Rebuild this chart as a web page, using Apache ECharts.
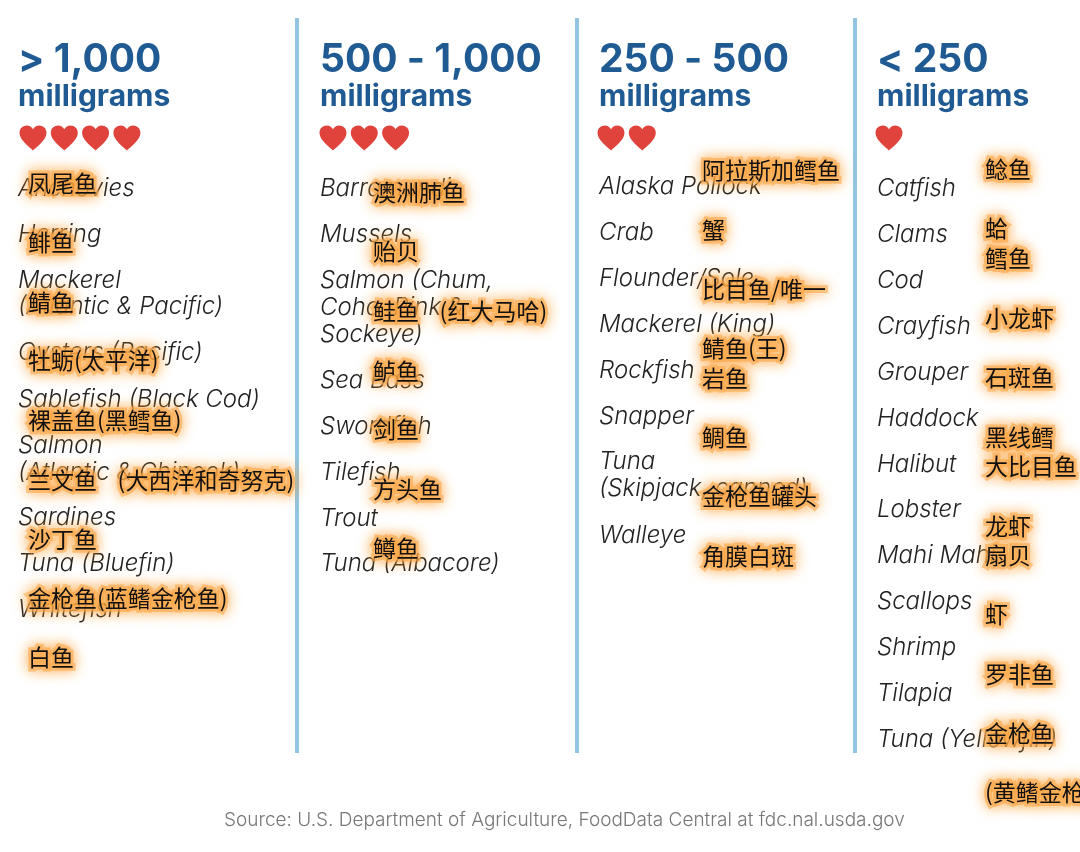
<!DOCTYPE html>
<html>
<head>
<meta charset="utf-8">
<title>Omega-3 por porción</title>
<script src="https://cdn.jsdelivr.net/npm/echarts@6/dist/echarts.min.js"></script>
<style>
  html, body { margin: 0; padding: 0; background: #fff; }
  #main { width: 1080px; height: 852px; }
</style>
</head>
<body>
<div id="main"></div>
<script>
// Encabezados
const ranges = ["> 1,000", "500 - 1,000", "250 - 500", "< 250"];
const unit = "milligrams";
const heartCounts = [4, 3, 2, 1];
const source = "Source: U.S. Department of Agriculture, FoodData Central at fdc.nal.usda.gov";

// Nombres en inglés por columna
const fishEn1 = ["Anchovies", "Herring", "Mackerel", "(Atlantic & Pacific)", "Oysters (Pacific)", "Sablefish (Black Cod)", "Salmon", "(Atlantic & Chinook)", "Sardines", "Tuna (Bluefin)", "Whitefish"];
const fishEn2 = ["Barramundi", "Mussels", "Salmon (Chum,", "Coho, Pink &", "Sockeye)", "Sea Bass", "Swordfish", "Tilefish", "Trout", "Tuna (Albacore)"];
const fishEn3 = ["Alaska Pollock", "Crab", "Flounder/Sole", "Mackerel (King)", "Rockfish", "Snapper", "Tuna", "(Skipjack, canned)", "Walleye"];
const fishEn4 = ["Catfish", "Clams", "Cod", "Crayfish", "Grouper", "Haddock", "Halibut", "Lobster", "Mahi Mahi", "Scallops", "Shrimp", "Tilapia", "Tuna (Yellowfin)"];

// Traducciones superpuestas
const fishZh1 = ["凤尾鱼", "鲱鱼", "鲭鱼", "牡蛎(太平洋)", "裸盖鱼(黑鳕鱼)", "兰文鱼    (大西洋和奇努克)", "沙丁鱼", "金枪鱼(蓝鳍金枪鱼)", "白鱼"];
const fishZh2 = ["澳洲肺鱼", "贻贝", "鲑鱼    (红大马哈)", "鲈鱼", "剑鱼", "方头鱼", "鳟鱼"];
const fishZh3 = ["阿拉斯加鳕鱼", "蟹", "比目鱼/唯一", "鲭鱼(王)", "岩鱼", "鲷鱼", "金枪鱼罐头", "角膜白斑"];
const fishZh4 = ["鲶鱼", "蛤", "鳕鱼", "小龙虾", "石斑鱼", "黑线鳕", "大比目鱼", "龙虾", "扇贝", "虾", "罗非鱼", "金枪鱼", "(黄鳍金枪鱼)"];

// Posición vertical de cada renglón
const rowsEn1 = [189, 235, 281, 307, 353, 400, 446, 473, 518, 564, 610];
const rowsEn2 = [189, 235, 281, 308, 335, 381, 427, 473, 519, 564];
const rowsEn3 = [187, 233, 279, 325, 371, 417, 462, 489, 536];
const rowsEn4 = [189, 235, 281, 327, 373, 419, 465, 510, 556, 602, 648, 694, 740];
const rowsZh1 = [183, 242, 302, 360, 420, 480, 539, 598, 657];
const rowsZh2 = [192, 251, 311, 371, 429, 489, 548];
const rowsZh3 = [170, 230, 289, 348, 378, 437, 496, 556];
const rowsZh4 = [169, 228, 258, 318, 377, 437, 466, 526, 555, 614, 674, 733, 792];

// Posición horizontal de cada columna
const columnX = [18, 320, 599, 877];
const zhX = [28, 373, 702, 985];
const heartX = [33, 333, 611, 889];
const dividerX = [297, 577, 855];

const BLUE = "#1f5a93";
const HEART = "M12 22 C10 19.5 1 13.5 1 7.2 C1 3.5 3.8 1 7 1 C9 1 11 2.2 12 4.2 C13 2.2 15 1 17 1 C20.2 1 23 3.5 23 7.2 C23 13.5 14 19.5 12 22 Z";

// Serie de textos: un punto invisible con su etiqueta
function textSeries(x, rows, labels, label, z) {
  return {
    type: "scatter",
    symbolSize: 0,
    silent: true,
    clip: false,
    z: z,
    itemStyle: { opacity: 1 },
    data: labels.map((t, i) => ({ value: [x, rows[i]], name: t })),
    label: Object.assign({ show: true, position: "right", distance: 0, formatter: "{b}" }, label),
  };
}

const enStyle = { fontFamily: "Inter", fontStyle: "italic", fontWeight: 300, fontSize: 24, color: "#222" };
const glowStyle = {
  fontFamily: "Noto Sans CJK SC", fontSize: 23, color: "#fbaa55",
  textBorderColor: "rgba(251,170,80,0.6)", textBorderWidth: 6,
  textShadowColor: "#fb9a26", textShadowBlur: 14,
};
const zhStyle = { fontFamily: "Noto Sans CJK SC", fontSize: 23, color: "#111" };

let series = [];

// Líneas divisorias
dividerX.forEach(x => {
  series.push({
    type: "line", symbol: "none", silent: true, z: 1,
    lineStyle: { color: "#94c4e2", width: 4 },
    data: [[x, 18], [x, 753]],
  });
});

// Encabezados y corazones
ranges.forEach((r, c) => {
  series.push(textSeries(columnX[c], [60], [r], { fontFamily: "Inter", fontWeight: 700, fontSize: 39, color: BLUE }, 3));
  series.push(textSeries(columnX[c], [97], [unit], { fontFamily: "Inter", fontWeight: 700, fontSize: 30, color: BLUE }, 3));
  let hearts = [];
  for (let i = 0; i < heartCounts[c]; i++) hearts.push([heartX[c] + i * 31.3, 138]);
  series.push({
    type: "scatter", silent: true, z: 3,
    symbol: "path://" + HEART, symbolSize: [27, 25],
    itemStyle: { color: "#e0433c", opacity: 1 },
    data: hearts,
  });
});

// Nombres en inglés
[[fishEn1, rowsEn1], [fishEn2, rowsEn2], [fishEn3, rowsEn3], [fishEn4, rowsEn4]].forEach((d, c) => {
  series.push(textSeries(columnX[c], d[1], d[0], enStyle, 4));
});

// Traducciones con halo naranja
[[fishZh1, rowsZh1], [fishZh2, rowsZh2], [fishZh3, rowsZh3], [fishZh4, rowsZh4]].forEach((d, c) => {
  series.push(textSeries(zhX[c], d[1], d[0], glowStyle, 5));
});
[[fishZh1, rowsZh1], [fishZh2, rowsZh2], [fishZh3, rowsZh3], [fishZh4, rowsZh4]].forEach((d, c) => {
  series.push(textSeries(zhX[c], d[1], d[0], zhStyle, 6));
});

// Fuente
series.push(textSeries(224, [820], [source], { fontFamily: "Inter", fontWeight: 300, fontSize: 19, color: "#777" }, 3));

const chart = echarts.init(document.getElementById("main"));
chart.setOption({
  animation: false,
  backgroundColor: "#fff",
  grid: { left: 0, right: 0, top: 0, bottom: 0 },
  xAxis: { type: "value", min: 0, max: 1080, show: false },
  yAxis: { type: "value", min: 0, max: 852, inverse: true, show: false },
  series: series,
});
</script>
</body>
</html>
